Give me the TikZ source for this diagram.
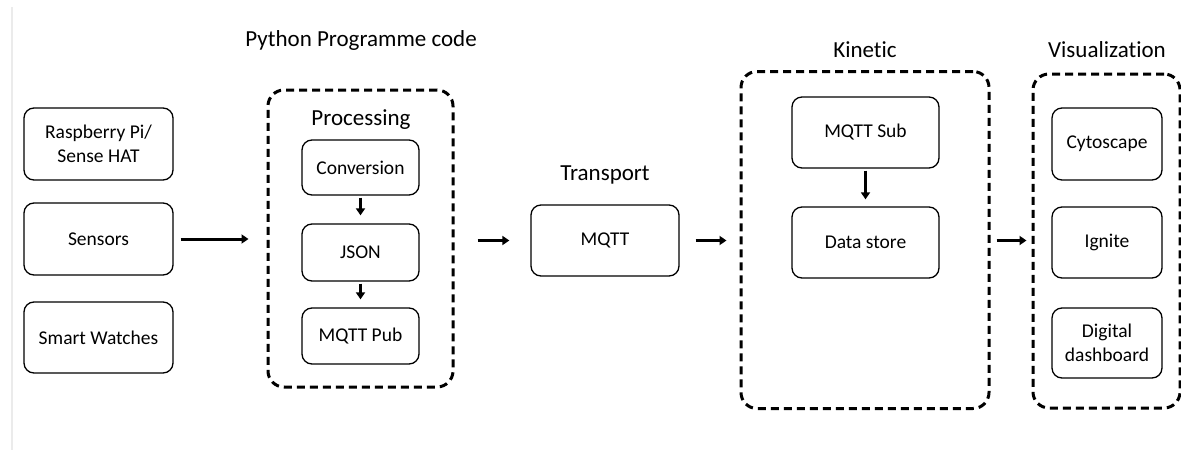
\documentclass[tikz,border=0pt]{standalone}
\usepackage{fontspec}
\setmainfont[Ligatures=NoCommon]{Carlito}
\usetikzlibrary{arrows.meta}

\begin{document}
\begin{tikzpicture}[x=1pt,y=-1pt]
\tikzset{box/.style={draw,rounded corners=10pt,line width=1.3pt,inner sep=0pt,align=center,font=\fontsize{19.5}{24}\selectfont}}
\tikzset{group/.style={draw,rounded corners=16pt,line width=3pt,dash pattern=on 8pt off 5pt,inner sep=0pt}}
\tikzset{head/.style={font=\fontsize{23}{27}\selectfont}}
\tikzset{flow/.style={line width=3pt,-{Triangle[length=7pt,width=9pt]}}}

\useasboundingbox (0,0) rectangle (1181,450);
\draw[black!8,line width=1.5pt] (12,7) -- (12,450);

% headings
\node[head] (pyhead) at (361,40) {Python Programme code};
\node[head] (prochead) at (361,120) {Processing};
\node[head] (tranhead) at (605,175) {Transport};
\node[head] (kinhead) at (865,50) {Kinetic};
\node[head] (vishead) at (1107,50) {Visualization};

% groups
\node[group,minimum width=185pt,minimum height=297pt] (proc) at (360.5,238.5) {};
\node[group,minimum width=248pt,minimum height=337pt] (kin) at (865,240) {};
\node[group,minimum width=147pt,minimum height=334pt] (vis) at (1106.5,241) {};

% sources
\node[box,minimum width=149pt,minimum height=72pt] (rpi) at (98.5,144) {Raspberry Pi/\\Sense HAT};
\node[box,minimum width=149pt,minimum height=72pt] (sensors) at (98.5,239) {Sensors};
\node[box,minimum width=149pt,minimum height=71pt] (watches) at (98.5,337.5) {Smart Watches};

% processing
\node[box,minimum width=117pt,minimum height=55pt] (conv) at (360.5,167.5) {Conversion};
\node[box,minimum width=117pt,minimum height=57pt] (json) at (360.5,252.5) {JSON};
\node[box,minimum width=117pt,minimum height=56pt] (pub) at (360.5,336) {MQTT Pub};

% transport
\node[box,minimum width=148pt,minimum height=71pt] (mqtt) at (605,240.5) {MQTT};

% kinetic
\node[box,minimum width=147pt,minimum height=71pt] (sub) at (865.5,132.5) {MQTT Sub};
\node[box,minimum width=147pt,minimum height=71pt] (store) at (865.5,242.5) {Data store};

% visualization
\node[box,minimum width=110pt,minimum height=72pt] (cyto) at (1107,144) {Cytoscape};
\node[box,minimum width=110pt,minimum height=71pt] (ignite) at (1107,242.5) {Ignite};
\node[box,minimum width=110pt,minimum height=70pt] (dboard) at (1107,343) {Digital\\dashboard};

% connectors
\draw[flow,shorten <=7pt,shorten >=18pt] (sensors.east) -- (sensors.east -| proc.west);
\draw[flow,shorten <=23pt,shorten >=21pt] (proc.east |- mqtt.west) -- (mqtt.west);
\draw[flow,shorten <=16pt,shorten >=13pt] (mqtt.east) -- (mqtt.east -| kin.west);
\draw[flow,shorten <=6pt,shorten >=5pt] (kin.east |- mqtt.east) -- (vis.west |- mqtt.east);
\draw[flow,line width=2.5pt,shorten <=2pt,shorten >=8pt] (conv.south) -- (json.north);
\draw[flow,line width=2.5pt,shorten <=2pt,shorten >=8pt] (json.south) -- (pub.north);
\draw[flow,line width=2.5pt,shorten <=2pt,shorten >=7pt] (sub.south) -- (store.north);
\end{tikzpicture}
\end{document}
